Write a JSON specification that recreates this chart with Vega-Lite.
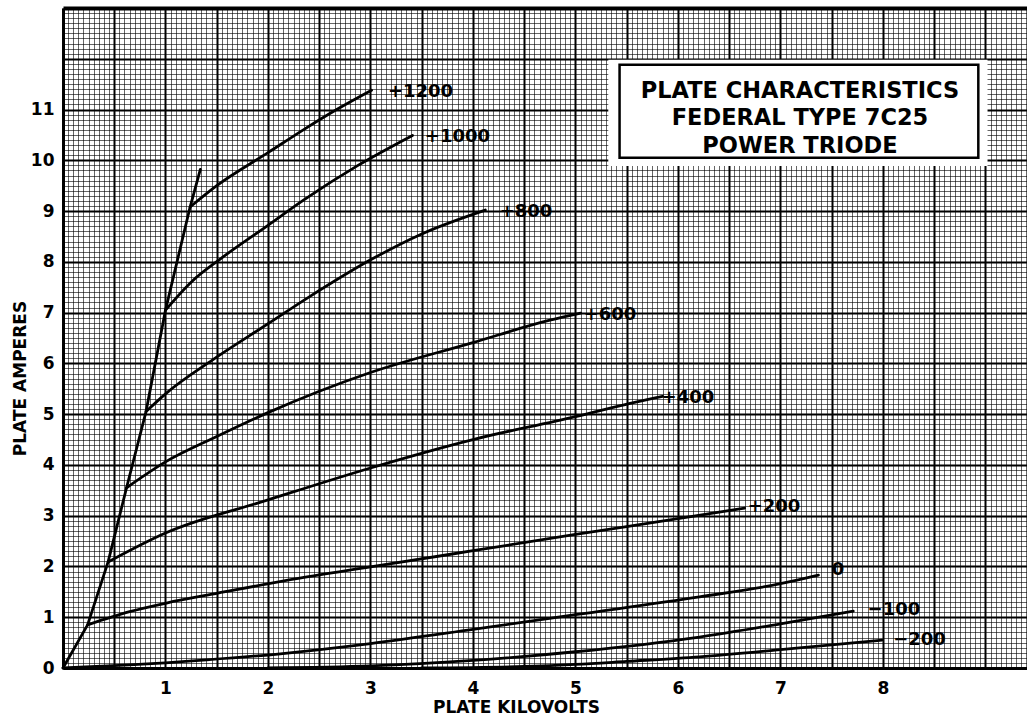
{
  "$schema": "https://vega.github.io/schema/vega-lite/v6.json",
  "width": 964,
  "height": 660,
  "autosize": {"type": "none"},
  "padding": {"left": 63, "top": 8, "right": 0, "bottom": 52},
  "background": "white",
  "config": {"view": {"stroke": null}},
  "datasets": {
    "locus": [
      {"kv": 0, "amps": 0}, {"kv": 0.24, "amps": 0.85}, {"kv": 0.44, "amps": 2.09}, {"kv": 0.62, "amps": 3.55}, {"kv": 0.81, "amps": 5.05}, {"kv": 1.0, "amps": 7.05}, {"kv": 1.24, "amps": 9.08}, {"kv": 1.34, "amps": 9.82}
    ],
    "curves": [
      {"bias": "+1200", "kv": 1.24, "amps": 9.08}, {"bias": "+1200", "kv": 1.5, "amps": 9.5}, {"bias": "+1200", "kv": 2.0, "amps": 10.15}, {"bias": "+1200", "kv": 2.36, "amps": 10.62}, {"bias": "+1200", "kv": 2.67, "amps": 11.0}, {"bias": "+1200", "kv": 3.01, "amps": 11.38},
      {"bias": "+1000", "kv": 1.0, "amps": 7.05}, {"bias": "+1000", "kv": 1.25, "amps": 7.6}, {"bias": "+1000", "kv": 1.53, "amps": 8.05}, {"bias": "+1000", "kv": 2.0, "amps": 8.72}, {"bias": "+1000", "kv": 2.35, "amps": 9.22}, {"bias": "+1000", "kv": 2.87, "amps": 9.89}, {"bias": "+1000", "kv": 3.41, "amps": 10.49},
      {"bias": "+800", "kv": 0.81, "amps": 5.05}, {"bias": "+800", "kv": 1.0, "amps": 5.4}, {"bias": "+800", "kv": 1.46, "amps": 6.07}, {"bias": "+800", "kv": 2.0, "amps": 6.78}, {"bias": "+800", "kv": 2.41, "amps": 7.32}, {"bias": "+800", "kv": 3.01, "amps": 8.05}, {"bias": "+800", "kv": 3.5, "amps": 8.55}, {"bias": "+800", "kv": 4.12, "amps": 9.02},
      {"bias": "+600", "kv": 0.62, "amps": 3.55}, {"bias": "+600", "kv": 1.0, "amps": 4.06}, {"bias": "+600", "kv": 1.5, "amps": 4.56}, {"bias": "+600", "kv": 2.0, "amps": 5.03}, {"bias": "+600", "kv": 3.0, "amps": 5.82}, {"bias": "+600", "kv": 4.0, "amps": 6.41}, {"bias": "+600", "kv": 4.75, "amps": 6.85}, {"bias": "+600", "kv": 5.05, "amps": 6.99},
      {"bias": "+400", "kv": 0.44, "amps": 2.09}, {"bias": "+400", "kv": 1.0, "amps": 2.66}, {"bias": "+400", "kv": 2.0, "amps": 3.31}, {"bias": "+400", "kv": 3.0, "amps": 3.94}, {"bias": "+400", "kv": 4.0, "amps": 4.5}, {"bias": "+400", "kv": 5.0, "amps": 4.95}, {"bias": "+400", "kv": 5.4, "amps": 5.15}, {"bias": "+400", "kv": 5.85, "amps": 5.35},
      {"bias": "+200", "kv": 0.24, "amps": 0.85}, {"bias": "+200", "kv": 0.65, "amps": 1.11}, {"bias": "+200", "kv": 1.01, "amps": 1.28}, {"bias": "+200", "kv": 1.5, "amps": 1.47}, {"bias": "+200", "kv": 2.31, "amps": 1.77}, {"bias": "+200", "kv": 3.0, "amps": 1.99}, {"bias": "+200", "kv": 4.0, "amps": 2.31}, {"bias": "+200", "kv": 5.0, "amps": 2.63}, {"bias": "+200", "kv": 6.0, "amps": 2.94}, {"bias": "+200", "kv": 6.65, "amps": 3.15},
      {"bias": "0", "kv": 0, "amps": 0}, {"bias": "0", "kv": 0.65, "amps": 0.06}, {"bias": "0", "kv": 1.4, "amps": 0.16}, {"bias": "0", "kv": 2.12, "amps": 0.28}, {"bias": "0", "kv": 3.0, "amps": 0.48}, {"bias": "0", "kv": 4.0, "amps": 0.76}, {"bias": "0", "kv": 5.0, "amps": 1.05}, {"bias": "0", "kv": 6.21, "amps": 1.4}, {"bias": "0", "kv": 7.0, "amps": 1.66}, {"bias": "0", "kv": 7.37, "amps": 1.83},
      {"bias": "-100", "kv": 2.0, "amps": 0}, {"bias": "-100", "kv": 3.0, "amps": 0.04}, {"bias": "-100", "kv": 4.0, "amps": 0.15}, {"bias": "-100", "kv": 5.0, "amps": 0.32}, {"bias": "-100", "kv": 6.21, "amps": 0.61}, {"bias": "-100", "kv": 7.0, "amps": 0.87}, {"bias": "-100", "kv": 7.71, "amps": 1.12},
      {"bias": "-200", "kv": 3.5, "amps": 0}, {"bias": "-200", "kv": 4.5, "amps": 0.03}, {"bias": "-200", "kv": 5.0, "amps": 0.07}, {"bias": "-200", "kv": 5.5, "amps": 0.13}, {"bias": "-200", "kv": 6.21, "amps": 0.22}, {"bias": "-200", "kv": 7.0, "amps": 0.36}, {"bias": "-200", "kv": 7.99, "amps": 0.55}
    ],
    "labels": [
      {"text": "+1200", "kv": 3.17, "amps": 11.35},
      {"text": "+1000", "kv": 3.53, "amps": 10.46},
      {"text": "+800", "kv": 4.26, "amps": 8.98},
      {"text": "+600", "kv": 5.08, "amps": 6.95},
      {"text": "+400", "kv": 5.84, "amps": 5.32},
      {"text": "+200", "kv": 6.68, "amps": 3.17},
      {"text": "0", "kv": 7.5, "amps": 1.93},
      {"text": "−100", "kv": 7.85, "amps": 1.14},
      {"text": "−200", "kv": 8.1, "amps": 0.55}
    ],
    "box": [
      {"part": "margin", "kv": 5.32, "kv2": 9.02, "amps": 9.89, "amps2": 11.98},
      {"part": "frame", "kv": 5.43, "kv2": 8.93, "amps": 10.05, "amps2": 11.88}
    ],
    "title": [
      {"line": "PLATE CHARACTERISTICS", "kv": 7.19, "amps": 11.37},
      {"line": "FEDERAL TYPE 7C25", "kv": 7.19, "amps": 10.84},
      {"line": "POWER TRIODE", "kv": 7.19, "amps": 10.28}
    ]
  },
  "encoding": {
    "x": {
      "field": "kv", "type": "quantitative",
      "scale": {"domain": [0, 9.405], "nice": false, "zero": false},
      "axis": {
        "title": "PLATE KILOVOLTS",
        "values": [0,0.05,0.1,0.15,0.2,0.25,0.3,0.35,0.4,0.45,0.5,0.55,0.6,0.65,0.7,0.75,0.8,0.85,0.9,0.95,1,1.05,1.1,1.15,1.2,1.25,1.3,1.35,1.4,1.45,1.5,1.55,1.6,1.65,1.7,1.75,1.8,1.85,1.9,1.95,2,2.05,2.1,2.15,2.2,2.25,2.3,2.35,2.4,2.45,2.5,2.55,2.6,2.65,2.7,2.75,2.8,2.85,2.9,2.95,3,3.05,3.1,3.15,3.2,3.25,3.3,3.35,3.4,3.45,3.5,3.55,3.6,3.65,3.7,3.75,3.8,3.85,3.9,3.95,4,4.05,4.1,4.15,4.2,4.25,4.3,4.35,4.4,4.45,4.5,4.55,4.6,4.65,4.7,4.75,4.8,4.85,4.9,4.95,5,5.05,5.1,5.15,5.2,5.25,5.3,5.35,5.4,5.45,5.5,5.55,5.6,5.65,5.7,5.75,5.8,5.85,5.9,5.95,6,6.05,6.1,6.15,6.2,6.25,6.3,6.35,6.4,6.45,6.5,6.55,6.6,6.65,6.7,6.75,6.8,6.85,6.9,6.95,7,7.05,7.1,7.15,7.2,7.25,7.3,7.35,7.4,7.45,7.5,7.55,7.6,7.65,7.7,7.75,7.8,7.85,7.9,7.95,8,8.05,8.1,8.15,8.2,8.25,8.3,8.35,8.4,8.45,8.5,8.55,8.6,8.65,8.7,8.75,8.8,8.85,8.9,8.95,9,9.05,9.1,9.15,9.2,9.25,9.3,9.35,9.4],
        "labelExpr": "datum.value > 0.99 && datum.value < 8.01 && abs(datum.value - round(datum.value)) < 0.001 ? toString(round(datum.value)) : ''",
        "labelOverlap": false,
        "labelFlush": false,
        "labelFont": "DejaVu Sans",
        "labelFontWeight": "bold",
        "labelFontSize": 17,
        "labelColor": "black",
        "labelPadding": 12,
        "ticks": false,
        "tickSize": 0,
        "domain": true,
        "domainColor": "black",
        "domainWidth": 3,
        "grid": true,
        "gridColor": "black",
        "gridWidth": {"condition": {"test": "abs(datum.value*2 - round(datum.value*2)) < 0.001", "value": 2}, "value": 1},
        "gridOpacity": {"condition": {"test": "abs(datum.value*2 - round(datum.value*2)) < 0.001", "value": 1}, "value": 0.6},
        "titleFont": "DejaVu Sans",
        "titleFontWeight": "bold",
        "titleFontSize": 17,
        "titleColor": "black",
        "titleX": 453,
        "titleY": 39,
        "titleAlign": "center",
        "titleBaseline": "middle"
      }
    },
    "y": {
      "field": "amps", "type": "quantitative",
      "scale": {"domain": [0, 13], "nice": false, "zero": false},
      "axis": {
        "title": "PLATE AMPERES",
        "values": [0,0.1,0.2,0.3,0.4,0.5,0.6,0.7,0.8,0.9,1,1.1,1.2,1.3,1.4,1.5,1.6,1.7,1.8,1.9,2,2.1,2.2,2.3,2.4,2.5,2.6,2.7,2.8,2.9,3,3.1,3.2,3.3,3.4,3.5,3.6,3.7,3.8,3.9,4,4.1,4.2,4.3,4.4,4.5,4.6,4.7,4.8,4.9,5,5.1,5.2,5.3,5.4,5.5,5.6,5.7,5.8,5.9,6,6.1,6.2,6.3,6.4,6.5,6.6,6.7,6.8,6.9,7,7.1,7.2,7.3,7.4,7.5,7.6,7.7,7.8,7.9,8,8.1,8.2,8.3,8.4,8.5,8.6,8.7,8.8,8.9,9,9.1,9.2,9.3,9.4,9.5,9.6,9.7,9.8,9.9,10,10.1,10.2,10.3,10.4,10.5,10.6,10.7,10.8,10.9,11,11.1,11.2,11.3,11.4,11.5,11.6,11.7,11.8,11.9,12,12.1,12.2,12.3,12.4,12.5,12.6,12.7,12.8,12.9,13],
        "labelExpr": "datum.value < 11.01 && abs(datum.value - round(datum.value)) < 0.001 ? toString(round(datum.value)) : ''",
        "labelOverlap": false,
        "labelFlush": false,
        "labelFont": "DejaVu Sans",
        "labelFontWeight": "bold",
        "labelFontSize": 17,
        "labelColor": "black",
        "labelPadding": 9,
        "ticks": false,
        "tickSize": 0,
        "domain": true,
        "domainColor": "black",
        "domainWidth": 3,
        "grid": true,
        "gridColor": "black",
        "gridWidth": {"condition": [{"test": "datum.value > 12.99", "value": 4}, {"test": "abs(datum.value - round(datum.value)) < 0.001", "value": 2}], "value": 1},
        "gridOpacity": {"condition": {"test": "abs(datum.value - round(datum.value)) < 0.001", "value": 1}, "value": 0.6},
        "titleFont": "DejaVu Sans",
        "titleFontWeight": "bold",
        "titleFontSize": 17,
        "titleColor": "black",
        "titleAngle": 270,
        "titleX": -43,
        "titleY": 370,
        "titleAlign": "center",
        "titleBaseline": "middle"
      }
    }
  },
  "layer": [
    {
      "data": {"name": "locus"},
      "mark": {"type": "line", "color": "black", "strokeWidth": 2.8, "strokeCap": "round", "strokeJoin": "round"}
    },
    {
      "data": {"name": "curves"},
      "mark": {"type": "line", "color": "black", "strokeWidth": 2.8, "strokeCap": "round", "interpolate": "monotone"},
      "encoding": {"detail": {"field": "bias", "type": "nominal"}}
    },
    {
      "data": {"name": "labels"},
      "mark": {"type": "text", "align": "left", "baseline": "middle", "font": "DejaVu Sans", "fontWeight": "bold", "fontSize": 18, "color": "black"},
      "encoding": {"text": {"field": "text", "type": "nominal"}}
    },
    {
      "data": {"name": "box"},
      "transform": [{"filter": "datum.part === 'margin'"}],
      "mark": {"type": "rect", "fill": "white", "strokeWidth": 0},
      "encoding": {"x2": {"field": "kv2"}, "y2": {"field": "amps2"}}
    },
    {
      "data": {"name": "box"},
      "transform": [{"filter": "datum.part === 'frame'"}],
      "mark": {"type": "rect", "fill": "white", "stroke": "black", "strokeWidth": 2.5},
      "encoding": {"x2": {"field": "kv2"}, "y2": {"field": "amps2"}}
    },
    {
      "data": {"name": "title"},
      "mark": {"type": "text", "align": "center", "baseline": "middle", "font": "DejaVu Sans", "fontWeight": "bold", "fontSize": 22.5, "color": "black"},
      "encoding": {"text": {"field": "line", "type": "nominal"}}
    }
  ]
}
